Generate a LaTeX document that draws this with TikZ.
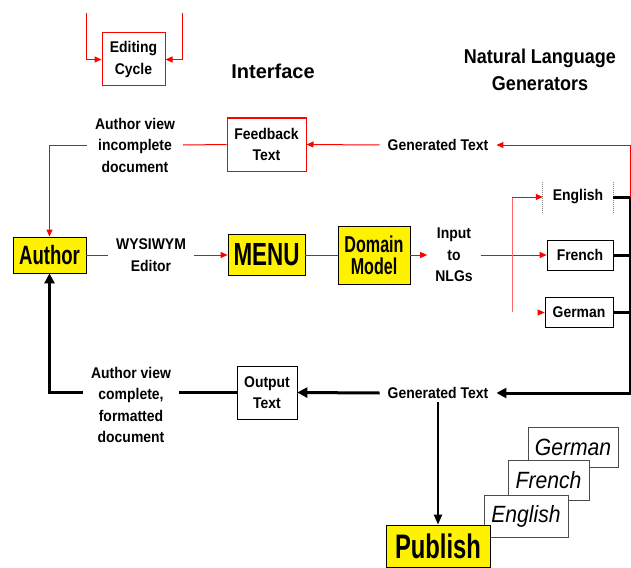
\documentclass[tikz,border=0pt]{standalone}
\usepackage{fontspec}
\setmainfont{Liberation Sans}
\newfontfamily\lblfont[FakeStretch=0.9]{Liberation Sans}
\newfontfamily\boxfont[FakeStretch=0.7]{Liberation Sans}
\usetikzlibrary{arrows.meta}

\begin{document}
\begin{tikzpicture}[x=1pt, y=-1pt,
		lbl/.style = {font=\lblfont\bfseries\fontsize{15.5}{21.5}\selectfont, align=center, inner xsep=8pt, inner ysep=3pt},
		redbox/.style = {lbl, draw=red, line width=1pt, inner sep=0pt},
		hilite/.style = {draw=black, fill=yellow, line width=0.8pt, inner sep=0pt, align=center},
		langbox/.style = {lbl, inner sep=0pt, minimum height=30pt},
		printbox/.style = {draw=black!70, fill=white, line width=0.7pt, inner sep=0pt, minimum height=40pt, font=\lblfont\itshape\fontsize{23.5}{26}\selectfont},
		fbwire/.style = {red, line width=1pt, >={Triangle[length=7pt,width=6pt]}},
		outwire/.style = {black, line width=3pt, >={Triangle[length=10pt,width=10pt]}}]
		\useasboundingbox (0,0) rectangle (631,567);
		% headings
		\node (iface) at (273,71) [font=\bfseries\fontsize{20}{24}\selectfont] {Interface};
		\node (nlgs) at (540,70) [align=center, font=\lblfont\bfseries\fontsize{20}{27}\selectfont] {Natural Language\\Generators};
		% editing cycle
		\node (cycle) at (133.5,59.5) [redbox, minimum width=63pt, minimum height=53pt] {Editing\\Cycle};
		\coordinate (cycleL) at (86,13);
		\coordinate (cycleR) at (182,13);
		\draw [fbwire, ->] (cycleL) |- (cycle.west);
		\draw [fbwire, ->] (cycleR) |- (cycle.east);
		% feedback row
		\node (feedback) at (266.5,144.5) [redbox, minimum width=79pt, minimum height=53pt] {Feedback\\Text};
		\node (incview) at (135,145) [lbl] {Author view\\incomplete\\document};
		\node (gentop) at (438,145) [lbl] {Generated Text};
		% main row
		\node (author) at (49.5,255) [hilite, minimum width=73pt, minimum height=36pt, font=\boxfont\bfseries\fontsize{26.5}{28}\selectfont] {Author};
		\node (editor) at (151,255) [lbl] {WYSIWYM\\Editor};
		\node (menu) at (266.5,255) [hilite, minimum width=77pt, minimum height=41pt, font=\boxfont\bfseries\fontsize{32}{34}\selectfont] {MENU};
		\node (domain) at (374,255) [hilite, minimum width=72pt, minimum height=58pt, font=\boxfont\bfseries\fontsize{23}{22}\selectfont] {Domain\\Model};
		\node (input) at (454,255) [lbl] {Input\\to\\NLGs};
		% generators
		\node (english) at (578,197) [langbox, minimum width=70pt] {English};
		\node (french) at (580,255) [langbox, draw=black, line width=0.7pt, minimum width=66pt] {French};
		\node (german) at (579,312.5) [langbox, draw=black, line width=0.7pt, minimum width=68pt] {German};
		\draw [gray, densely dotted, line width=1pt] (english.north west) -- (english.south west) (english.north east) -- (english.south east);
		% output row
		\node (genbot) at (438,393) [lbl] {Generated Text};
		\node (output) at (267,392.5) [lbl, draw=black, line width=0.7pt, inner sep=0pt, minimum width=60pt, minimum height=53pt] {Output\\Text};
		\node (compview) at (131,405) [lbl] {Author view\\complete,\\formatted\\document};
		% publish
		\node (pgerman) at (573,447) [printbox, minimum width=90pt] {German};
		\node (pfrench) at (548.5,480) [printbox, minimum width=81pt] {French};
		\node (penglish) at (526,516) [printbox, minimum width=84pt, minimum height=42pt] {English};
		\node (publish) at (438,546) [hilite, minimum width=104pt, minimum height=42pt, font=\boxfont\bfseries\fontsize{34}{36}\selectfont] {Publish};
		% feedback wires
		\coordinate (nlgbus) at (630,197);
		\draw [fbwire, ->] (nlgbus) |- (gentop.east);
		\draw [fbwire, ->] (gentop.west) -- (feedback.east);
		\draw [fbwire] (feedback.west) -- (incview.east);
		\draw [fbwire, ->] (incview.west) -| (author.north);
		% editing wires
		\draw [fbwire] (author.east) -- (editor.west);
		\draw [fbwire, ->] (editor.east) -- (menu.west);
		\draw [fbwire] (menu.east) -- (domain.west);
		\draw [fbwire, ->] (domain.east) -- (input.west);
		\draw [fbwire, ->] (input.east) -- (french.west);
		\coordinate (fanup) at (512,197);
		\coordinate (fandown) at (512,312);
		\draw [fbwire, red!60] (fanup) -- (fandown);
		\draw [fbwire, ->] (fanup) -- (english.west);
		\draw [fbwire, ->] ([xshift=-7pt]german.west) -- (german.west);
		% output wires
		\draw [outwire] (english.east) -- (nlgbus);
		\draw [outwire] (french.east) -- (french.east -| nlgbus);
		\draw [outwire] (german.east) -- (german.east -| nlgbus);
		\draw [outwire, ->] (nlgbus) |- (genbot.east);
		\draw [outwire, ->] (genbot.west) -- (output.east);
		\draw [outwire] (output.west) -- (output.west -| compview.east);
		\draw [outwire, ->] (output.west -| compview.west) -| (author.south);
		\draw [black, line width=2pt, -{Triangle[length=10pt,width=8pt]}] (genbot.south) -- (publish.north);
		%\draw [red] (nlgbus) -- (630,145);
	\end{tikzpicture}
\end{document}
